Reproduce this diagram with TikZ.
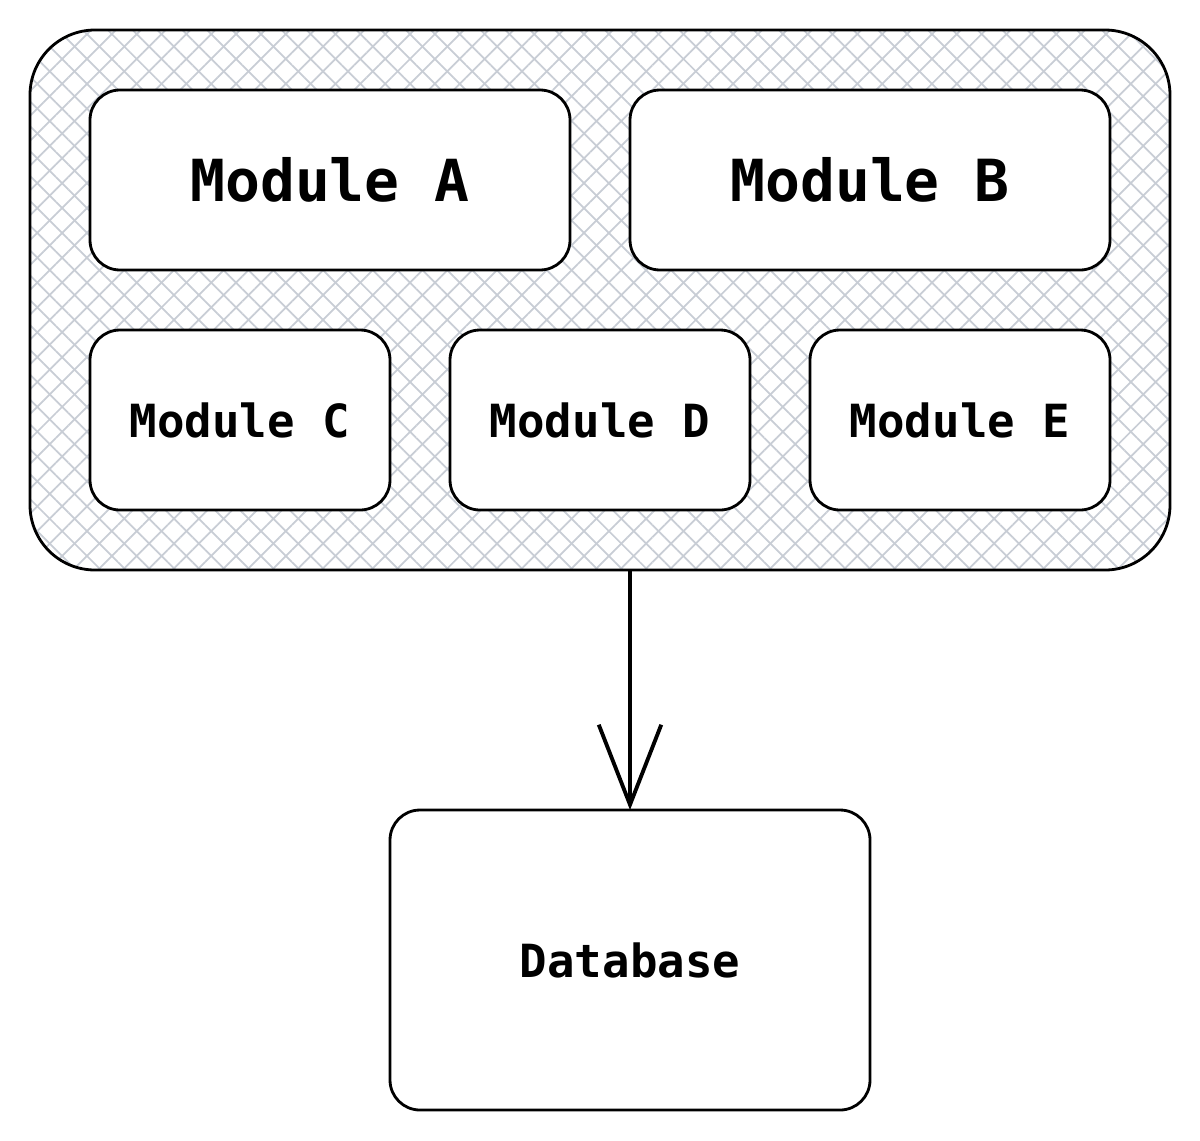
\documentclass[tikz,border=0pt]{standalone}
\usepackage{fontspec}
\newfontfamily\modfont{DejaVu Sans Mono}
\usepackage{tikz}
\usetikzlibrary{arrows.meta,patterns.meta}
\usetikzlibrary{calc,backgrounds,positioning,fit}
\definecolor{hatch}{RGB}{200,205,213}

\begin{document}
\begin{tikzpicture}[line width=1.6pt,node distance=1.2cm,
	module/.style={draw,fill=white,outer sep=0pt,rounded corners=0.6cm,minimum height=3.6cm,font=\modfont\bfseries\fontsize{26}{30}\selectfont},
	big/.style={module,minimum width=9.6cm,font=\modfont\bfseries\fontsize{33}{38}\selectfont},
	small/.style={module,minimum width=6cm},
	hatched/.style={outer sep=0pt,rounded corners=1.3cm,inner sep=1.2cm,
		preaction={pattern={Lines[angle=45,distance=10pt,line width=1pt]},pattern color=hatch},
		pattern={Lines[angle=-45,distance=10pt,line width=1pt]},pattern color=hatch,
		postaction={draw,line width=1.6pt}},
	link/.style={line width=2.2pt,-{Straight Barb[length=1.6cm,width=1.25cm]}}]
	\useasboundingbox (0,0) rectangle (24,-22.8);
	  \node[big] (A) at (6.6,-3.6) {Module A};
	  \node[big] (B) [right=of A] {Module B};
	  \node[small] (C) [below=of A.south west,anchor=north west] {Module C};
	  \node[small] (D) [right=of C] {Module D};
	  \node[small] (E) [right=of D] {Module E};
	  \begin{scope}[on background layer]
	  \node[hatched,fit=(A) (B) (C) (D) (E)] (core) {};
	  \end{scope}
	  \node[module,minimum width=9.6cm,minimum height=6cm] (db) [below=4.8cm of core.south,xshift=0.6cm] {Database};
	  \draw[link] (core.south -| db.north) -- (db.north);
\end{tikzpicture}
\end{document}
